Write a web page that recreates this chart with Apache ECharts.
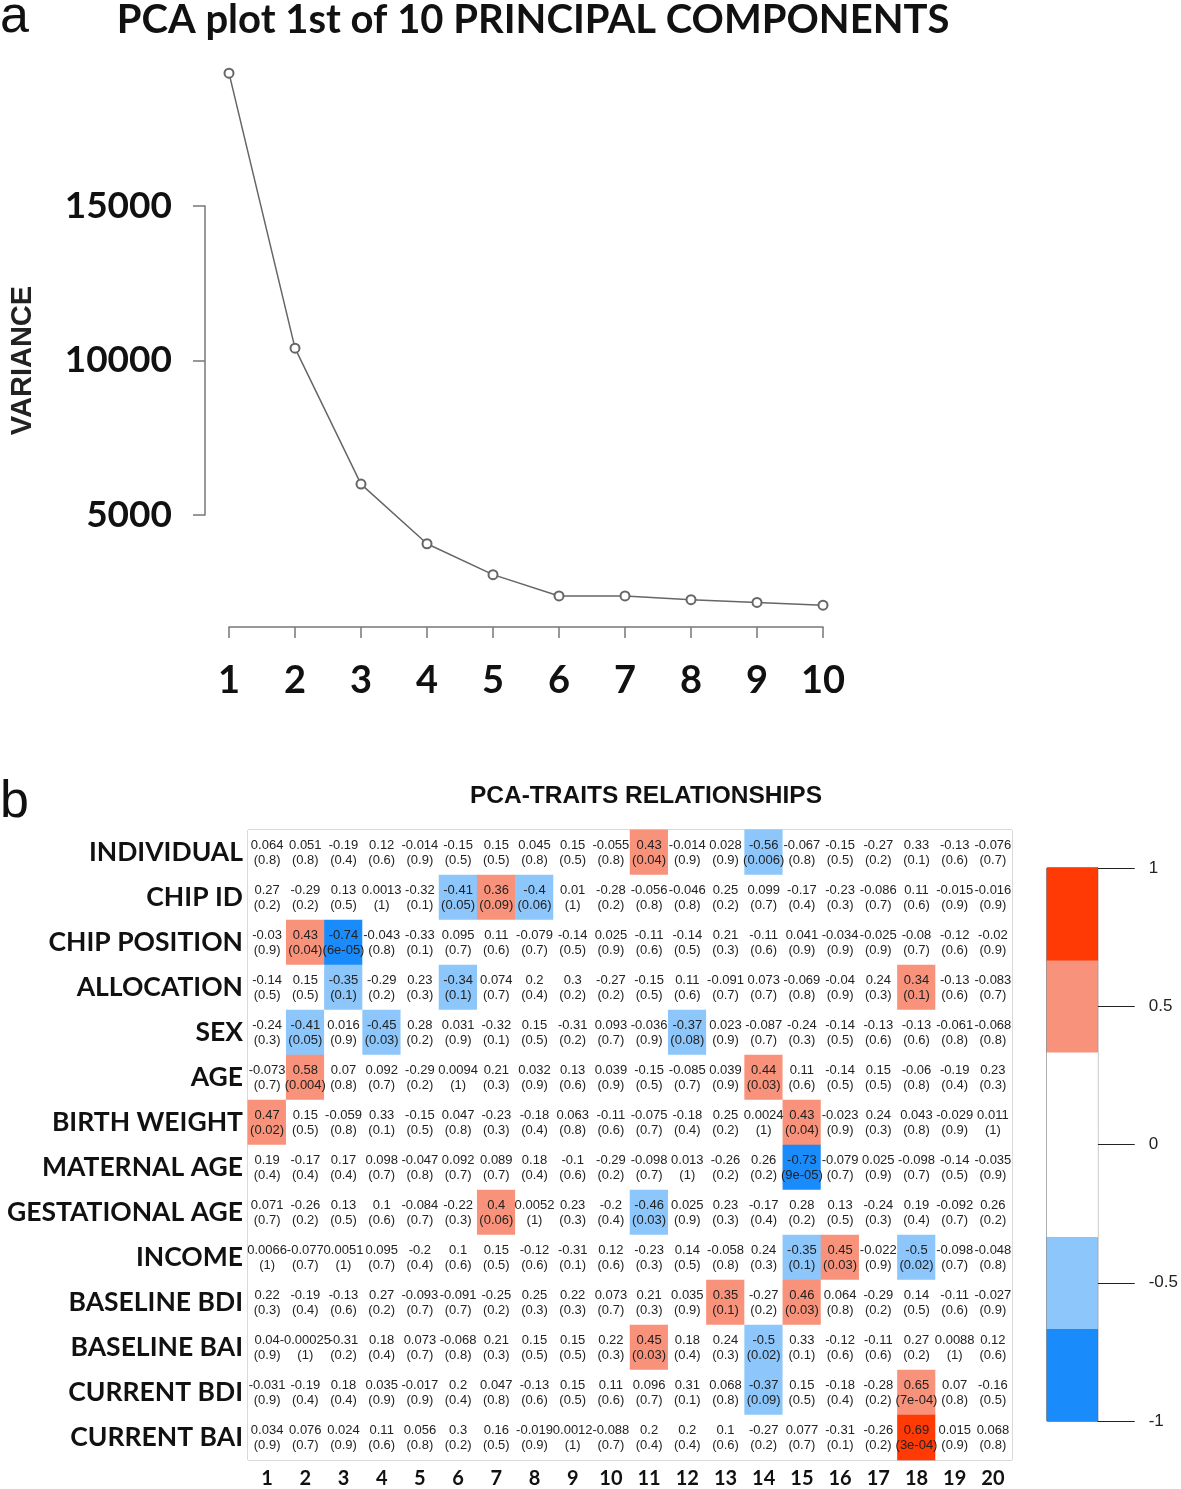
<!DOCTYPE html>
<html><head><meta charset="utf-8">
<script src="https://cdn.jsdelivr.net/npm/echarts@6/dist/echarts.min.js"></script>
<style>html,body{margin:0;padding:0;background:#fff}#c{width:1181px;height:1489px}</style>
</head><body><div id="c"></div>
<script>
// ---- Panel a: scree plot ----
const pcLabels = ['1','2','3','4','5','6','7','8','9','10'];
const pcVariance = [19300, 10400, 6000, 4070, 3070, 2380, 2380, 2260, 2170, 2080];
const varianceTicks = { min: 5000, max: 15000, step: 5000 };

// ---- Panel b: trait / PC correlations ----
const traits = ['INDIVIDUAL','CHIP ID','CHIP POSITION','ALLOCATION','SEX','AGE','BIRTH WEIGHT',
  'MATERNAL AGE','GESTATIONAL AGE','INCOME','BASELINE BDI','BASELINE BAI','CURRENT BDI','CURRENT BAI'];
const components = ['1','2','3','4','5','6','7','8','9','10','11','12','13','14','15','16','17','18','19','20'];
const corr = [
  [0.064,0.051,-0.19,0.12,-0.014,-0.15,0.15,0.045,0.15,-0.055,0.43,-0.014,0.028,-0.56,-0.067,-0.15,-0.27,0.33,-0.13,-0.076],
  [0.27,-0.29,0.13,0.0013,-0.32,-0.41,0.36,-0.4,0.01,-0.28,-0.056,-0.046,0.25,0.099,-0.17,-0.23,-0.086,0.11,-0.015,-0.016],
  [-0.03,0.43,-0.74,-0.043,-0.33,0.095,0.11,-0.079,-0.14,0.025,-0.11,-0.14,0.21,-0.11,0.041,-0.034,-0.025,-0.08,-0.12,-0.02],
  [-0.14,0.15,-0.35,-0.29,0.23,-0.34,0.074,0.2,0.3,-0.27,-0.15,0.11,-0.091,0.073,-0.069,-0.04,0.24,0.34,-0.13,-0.083],
  [-0.24,-0.41,0.016,-0.45,0.28,0.031,-0.32,0.15,-0.31,0.093,-0.036,-0.37,0.023,-0.087,-0.24,-0.14,-0.13,-0.13,-0.061,-0.068],
  [-0.073,0.58,0.07,0.092,-0.29,0.0094,0.21,0.032,0.13,0.039,-0.15,-0.085,0.039,0.44,0.11,-0.14,0.15,-0.06,-0.19,0.23],
  [0.47,0.15,-0.059,0.33,-0.15,0.047,-0.23,-0.18,0.063,-0.11,-0.075,-0.18,0.25,0.0024,0.43,-0.023,0.24,0.043,-0.029,0.011],
  [0.19,-0.17,0.17,0.098,-0.047,0.092,0.089,0.18,-0.1,-0.29,-0.098,0.013,-0.26,0.26,-0.73,-0.079,0.025,-0.098,-0.14,-0.035],
  [0.071,-0.26,0.13,0.1,-0.084,-0.22,0.4,0.0052,0.23,-0.2,-0.46,0.025,0.23,-0.17,0.28,0.13,-0.24,0.19,-0.092,0.26],
  [0.0066,-0.077,0.0051,0.095,-0.2,0.1,0.15,-0.12,-0.31,0.12,-0.23,0.14,-0.058,0.24,-0.35,0.45,-0.022,-0.5,-0.098,-0.048],
  [0.22,-0.19,-0.13,0.27,-0.093,-0.091,-0.25,0.25,0.22,0.073,0.21,0.035,0.35,-0.27,0.46,0.064,-0.29,0.14,-0.11,-0.027],
  [0.04,-0.00025,-0.31,0.18,0.073,-0.068,0.21,0.15,0.15,0.22,0.45,0.18,0.24,-0.5,0.33,-0.12,-0.11,0.27,0.0088,0.12],
  [-0.031,-0.19,0.18,0.035,-0.017,0.2,0.047,-0.13,0.15,0.11,0.096,0.31,0.068,-0.37,0.15,-0.18,-0.28,0.65,0.07,-0.16],
  [0.034,0.076,0.024,0.11,0.056,0.3,0.16,-0.019,0.0012,-0.088,0.2,0.2,0.1,-0.27,0.077,-0.31,-0.26,0.69,0.015,0.068]
];
const pvals = [
  ['0.8','0.8','0.4','0.6','0.9','0.5','0.5','0.8','0.5','0.8','0.04','0.9','0.9','0.006','0.8','0.5','0.2','0.1','0.6','0.7'],
  ['0.2','0.2','0.5','1','0.1','0.05','0.09','0.06','1','0.2','0.8','0.8','0.2','0.7','0.4','0.3','0.7','0.6','0.9','0.9'],
  ['0.9','0.04','6e-05','0.8','0.1','0.7','0.6','0.7','0.5','0.9','0.6','0.5','0.3','0.6','0.9','0.9','0.9','0.7','0.6','0.9'],
  ['0.5','0.5','0.1','0.2','0.3','0.1','0.7','0.4','0.2','0.2','0.5','0.6','0.7','0.7','0.8','0.9','0.3','0.1','0.6','0.7'],
  ['0.3','0.05','0.9','0.03','0.2','0.9','0.1','0.5','0.2','0.7','0.9','0.08','0.9','0.7','0.3','0.5','0.6','0.6','0.8','0.8'],
  ['0.7','0.004','0.8','0.7','0.2','1','0.3','0.9','0.6','0.9','0.5','0.7','0.9','0.03','0.6','0.5','0.5','0.8','0.4','0.3'],
  ['0.02','0.5','0.8','0.1','0.5','0.8','0.3','0.4','0.8','0.6','0.7','0.4','0.2','1','0.04','0.9','0.3','0.8','0.9','1'],
  ['0.4','0.4','0.4','0.7','0.8','0.7','0.7','0.4','0.6','0.2','0.7','1','0.2','0.2','9e-05','0.7','0.9','0.7','0.5','0.9'],
  ['0.7','0.2','0.5','0.6','0.7','0.3','0.06','1','0.3','0.4','0.03','0.9','0.3','0.4','0.2','0.5','0.3','0.4','0.7','0.2'],
  ['1','0.7','1','0.7','0.4','0.6','0.5','0.6','0.1','0.6','0.3','0.5','0.8','0.3','0.1','0.03','0.9','0.02','0.7','0.8'],
  ['0.3','0.4','0.6','0.2','0.7','0.7','0.2','0.3','0.3','0.7','0.3','0.9','0.1','0.2','0.03','0.8','0.2','0.5','0.6','0.9'],
  ['0.9','1','0.2','0.4','0.7','0.8','0.3','0.5','0.5','0.3','0.03','0.4','0.3','0.02','0.1','0.6','0.6','0.2','1','0.6'],
  ['0.9','0.4','0.4','0.9','0.9','0.4','0.8','0.6','0.5','0.6','0.7','0.1','0.8','0.09','0.5','0.4','0.2','7e-04','0.8','0.5'],
  ['0.9','0.7','0.9','0.6','0.8','0.2','0.5','0.9','1','0.7','0.4','0.4','0.6','0.2','0.7','0.1','0.2','3e-04','0.9','0.8']
];
// colour key: bin edges and colours, plus midpoints used to paint the key
const binEdges = [-1, -2/3, -1/3, 0, 1/3, 2/3, 1];
const binColors = ['#1a8bfb', '#8cc6fb', '#ffffff', '#ffffff', '#f9927a', '#ff3a05'];
const keyTicks = { min: -1, max: 1, step: 0.5 };

const heatData = [];
corr.forEach((row, r) => row.forEach((v, c) => heatData.push([c, r, v])));
const keyCats = binColors.map((_, i) => 'bin' + i);
const keyData = binColors.map((_, i) => [0, i, (binEdges[i] + binEdges[i + 1]) / 2]);
const pieces = binColors.map((col, i) => ({ gte: binEdges[i], lt: i === binColors.length - 1 ? 1.0001 : binEdges[i + 1], color: col }));

const boldSans = 'Lato';
const arial = 'Liberation Sans, Arial, sans-serif';
const chart = echarts.init(document.getElementById('c'), null, { renderer: 'canvas' });
chart.setOption({
  animation: false,
  backgroundColor: '#fff',
  title: [
    { text: 'a', left: 0, top: -8, padding: 0, textStyle: { fontSize: 52, fontWeight: 'normal', fontFamily: arial, color: '#111' } },
    { text: 'PCA plot 1st of 10 PRINCIPAL COMPONENTS', left: 533, textAlign: 'center', top: 0, padding: 0,
      textStyle: { fontSize: 40, fontWeight: 'bold', fontFamily: boldSans, color: '#111' } },
    { text: 'b', left: 0, top: 777, padding: 0, textStyle: { fontSize: 52, fontWeight: 'normal', fontFamily: arial, color: '#111' } },
    { text: 'PCA-TRAITS RELATIONSHIPS', left: 646, textAlign: 'center', top: 784, padding: 0,
      textStyle: { fontSize: 24.5, fontWeight: 'bold', fontFamily: arial, color: '#111' } }
  ],
  grid: [
    { left: 229, top: 206, width: 594, height: 309, show: false },
    { left: 248, top: 830, width: 764, height: 630, show: true, borderColor: '#9a9a9a', borderWidth: 1, backgroundColor: 'transparent' },
    { left: 1047, top: 868, width: 51, height: 553, show: true, borderColor: '#222', borderWidth: 1, backgroundColor: 'transparent' }
  ],
  xAxis: [
    { type: 'category', gridIndex: 0, data: pcLabels, boundaryGap: false, offset: 112,
      axisLine: { lineStyle: { color: '#777', width: 1.5 } },
      axisTick: { length: 11, lineStyle: { color: '#777', width: 1.5 } },
      axisLabel: { fontSize: 38, fontWeight: 'bold', fontFamily: boldSans, color: '#111', margin: 35 } },
    { type: 'category', gridIndex: 1, data: components, position: 'bottom',
      axisLine: { show: false }, axisTick: { show: false },
      axisLabel: { fontSize: 20, fontWeight: 'bold', fontFamily: boldSans, color: '#111', margin: 9 } },
    { type: 'category', gridIndex: 2, data: ['key'], show: false }
  ],
  yAxis: [
    { type: 'value', gridIndex: 0, min: varianceTicks.min, max: varianceTicks.max, interval: varianceTicks.step, offset: 24,
      name: 'VARIANCE', nameLocation: 'middle', nameRotate: 90, nameGap: 168,
      nameTextStyle: { fontSize: 29, fontWeight: 'bold', fontFamily: arial, color: '#222' },
      axisLine: { show: true, lineStyle: { color: '#777', width: 1.5 } },
      axisTick: { show: true, length: 12, lineStyle: { color: '#777', width: 1.5 } },
      splitLine: { show: false },
      axisLabel: { fontSize: 37, fontWeight: 'bold', fontFamily: boldSans, color: '#111', margin: 33,
        formatter: v => String(v) } },
    { type: 'category', gridIndex: 1, data: traits, inverse: true,
      axisLine: { show: false }, axisTick: { show: false },
      axisLabel: { fontSize: 26.5, fontWeight: 'bold', fontFamily: boldSans, color: '#111', margin: 5 } },
    { type: 'category', gridIndex: 2, data: keyCats, show: false },
    { type: 'value', gridIndex: 2, min: keyTicks.min, max: keyTicks.max, interval: keyTicks.step, position: 'right',
      axisLine: { show: true, lineStyle: { color: '#222' } },
      axisTick: { show: true, length: 37, lineStyle: { color: '#222' } },
      splitLine: { show: false },
      axisLabel: { fontSize: 17, fontFamily: arial, color: '#222', margin: 51 } }
  ],
  visualMap: [{ type: 'piecewise', show: false, seriesIndex: [1, 2], dimension: 2, pieces: pieces }],
  series: [
    { type: 'line', xAxisIndex: 0, yAxisIndex: 0, data: pcVariance, clip: false,
      symbol: 'emptyCircle', symbolSize: 9,
      lineStyle: { color: '#666', width: 1.5 },
      itemStyle: { color: '#666', borderColor: '#666', borderWidth: 1.5 } },
    { type: 'heatmap', xAxisIndex: 1, yAxisIndex: 1, data: heatData,
      itemStyle: { borderWidth: 0 },
      emphasis: { disabled: true },
      label: { show: true, fontSize: 13, fontFamily: arial, color: '#222', lineHeight: 15,
        formatter: p => corr[p.value[1]][p.value[0]] + '\n(' + pvals[p.value[1]][p.value[0]] + ')' } },
    { type: 'heatmap', xAxisIndex: 2, yAxisIndex: 2, data: keyData,
      itemStyle: { borderWidth: 0 }, emphasis: { disabled: true } }
  ]
});
</script></body></html>
